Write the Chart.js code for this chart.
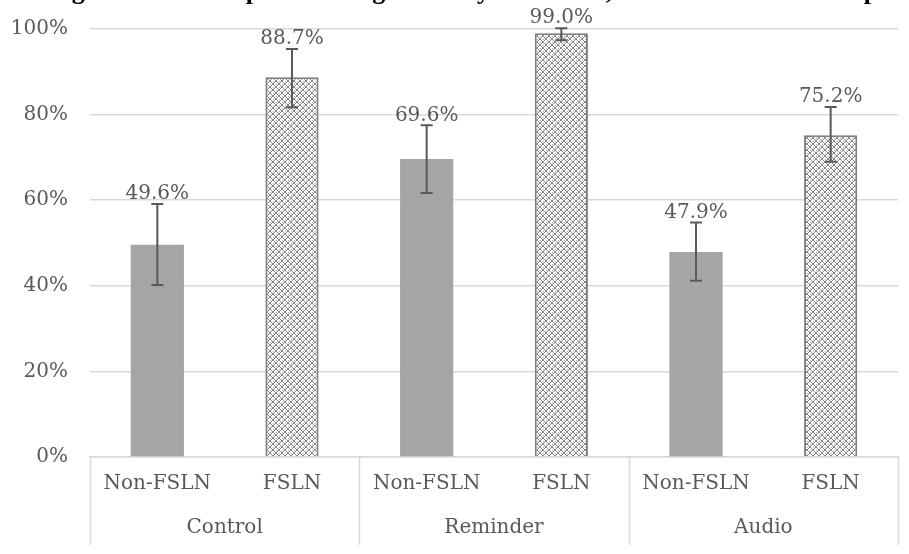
<!DOCTYPE html>
<html>
<head>
<meta charset="utf-8">
<script src="https://cdn.jsdelivr.net/npm/chart.js@4.4.1/dist/chart.umd.min.js"></script>
<style>
    html, body { margin: 0; padding: 0; background: #ffffff; }
    #wrap { width: 909px; height: 554px; position: relative; }
</style>
</head>
<body>
<div id="wrap"><canvas id="ChartFsln"></canvas></div>
<script>
// categories
const Grupos = ['Control', 'Reminder', 'Audio'];
const Tipos = ['Non-FSLN', 'FSLN', 'Non-FSLN', 'FSLN', 'Non-FSLN', 'FSLN'];

// values (%) and error bar bounds (%)
const Valores = [49.6, 88.7, 69.6, 99.0, 47.9, 75.2];
const ErrorBajo = [40.2, 81.7, 61.7, 97.4, 41.2, 69.0];
const ErrorAlto = [59.1, 95.3, 77.5, 100.2, 54.8, 81.8];

// y axis ticks
const TicksY = [0, 20, 40, 60, 80, 100];

const Titulo = 'Voting intention and partisan alignment by treatment, FSLN and non-FSLN participants';

const FUENTE = "'DejaVu Serif', serif";
const GRIS_TEXTO = '#595959';
const GRIS_GRID = '#d9d9d9';

// crosshatch pattern like Excel's fill pattern
const CrearPatron = () => {
    const c = document.createElement('canvas');
    c.width = 6;
    c.height = 6;
    const p = c.getContext('2d');
    p.fillStyle = '#ffffff';
    p.fillRect(0, 0, 6, 6);
    p.strokeStyle = '#858585';
    p.lineWidth = 1;
    p.beginPath();
    p.moveTo(0, 3); p.lineTo(3, 0);
    p.moveTo(3, 0); p.lineTo(6, 3);
    p.moveTo(6, 3); p.lineTo(3, 6);
    p.moveTo(3, 6); p.lineTo(0, 3);
    p.stroke();
    p.fillStyle = '#a8a8a8';
    p.fillRect(3, 3, 1, 1);
    p.fillRect(0, 0, 1, 1);
    return document.createElement('canvas').getContext('2d').createPattern(c, 'repeat');
};

const patron = CrearPatron();

// error bars + value labels
const ErrorBarsPlugin = {
    id: 'errorBars',
    afterDatasetsDraw(chart) {
        const ctx = chart.ctx;
        const meta = chart.getDatasetMeta(0);
        const y = chart.scales.y;
        ctx.save();
        meta.data.forEach((bar, i) => {
            const yAlto = y.getPixelForValue(ErrorAlto[i]);
            const yBajo = y.getPixelForValue(ErrorBajo[i]);
            ctx.strokeStyle = GRIS_TEXTO;
            ctx.lineWidth = 2;
            ctx.beginPath();
            ctx.moveTo(bar.x, yAlto);
            ctx.lineTo(bar.x, yBajo);
            ctx.moveTo(bar.x - 6, yAlto);
            ctx.lineTo(bar.x + 6, yAlto);
            ctx.moveTo(bar.x - 6, yBajo);
            ctx.lineTo(bar.x + 6, yBajo);
            ctx.stroke();

            ctx.fillStyle = GRIS_TEXTO;
            ctx.font = '20px ' + FUENTE;
            ctx.textAlign = 'center';
            ctx.textBaseline = 'bottom';
            ctx.fillText(Valores[i].toFixed(1) + '%', bar.x, yAlto);
        });
        ctx.restore();
    }
};

// multi-level axis separators + clipped title
const EjeGruposPlugin = {
    id: 'ejeGrupos',
    afterDraw(chart) {
        const ctx = chart.ctx;
        const x = chart.scales.x;
        const x2 = chart.scales.x2;
        const top = chart.chartArea.bottom;
        const bottom = x2.bottom;
        const paso = (x.right - x.left) / Grupos.length;
        ctx.save();
        ctx.strokeStyle = GRIS_GRID;
        ctx.lineWidth = 1.5;
        ctx.beginPath();
        for (let g = 0; g <= Grupos.length; g++) {
            const px = Math.round(x.left + paso * g) + 0.5;
            ctx.moveTo(px, top);
            ctx.lineTo(px, bottom);
        }
        ctx.stroke();

        ctx.fillStyle = '#000000';
        ctx.font = "bold 26px 'Liberation Serif', serif";
        ctx.textAlign = 'left';
        ctx.textBaseline = 'alphabetic';
        ctx.fillText(Titulo, 12, -1);
        ctx.restore();
    }
};

var ctxFsln = document.getElementById('ChartFsln');
var ChartFsln = new Chart(ctxFsln, {
    type: 'bar',
    data: {
        labels: Tipos,
        datasets: [{
            label: 'FSLN',
            data: Valores,
            backgroundColor: Tipos.map(t => t === 'FSLN' ? patron : '#a5a5a5'),
            borderColor: Tipos.map(t => t === 'FSLN' ? '#7f7f7f' : '#a5a5a5'),
            borderWidth: Tipos.map(t => t === 'FSLN' ? 2 : 0),
            barPercentage: 0.395,
            categoryPercentage: 1
        }]
    },
    options: {
        responsive: true,
        maintainAspectRatio: false,
        animation: false,
        devicePixelRatio: 1,
        layout: {
            padding: { top: 29, left: 0, right: 11, bottom: 9 }
        },
        plugins: {
            legend: { display: false },
            tooltip: { enabled: false },
            title: { display: false }
        },
        scales: {
            y: {
                min: 0,
                max: 100,
                afterBuildTicks: (axis) => {
                    axis.ticks = TicksY.map(v => ({ value: v }));
                },
                afterFit: (axis) => {
                    axis.width = 90;
                },
                ticks: {
                    padding: 3,
                    color: GRIS_TEXTO,
                    font: { family: FUENTE, size: 20 },
                    callback: (v) => v + '%'
                },
                grid: {
                    color: GRIS_GRID,
                    lineWidth: 1.5,
                    drawTicks: true,
                    tickLength: 19,
                    tickColor: 'rgba(0,0,0,0)'
                },
                border: { display: false }
            },
            x: {
                ticks: {
                    padding: 15,
                    color: GRIS_TEXTO,
                    font: { family: FUENTE, size: 20 },
                    maxRotation: 0
                },
                grid: {
                    display: false,
                    drawTicks: false
                },
                border: { display: true, color: GRIS_GRID, width: 1.5 }
            },
            x2: {
                type: 'category',
                position: 'bottom',
                labels: Grupos,
                offset: true,
                ticks: {
                    padding: 7,
                    color: GRIS_TEXTO,
                    font: { family: FUENTE, size: 20, lineHeight: 1 },
                    maxRotation: 0
                },
                grid: { display: false, drawTicks: false },
                border: { display: false }
            }
        }
    },
    plugins: [ErrorBarsPlugin, EjeGruposPlugin]
});
</script>
</body>
</html>
